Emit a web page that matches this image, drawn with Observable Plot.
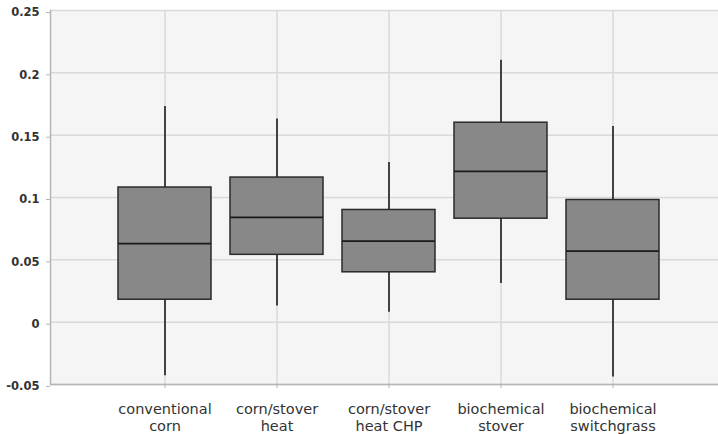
<!DOCTYPE html>
<html>
<head>
<meta charset="utf-8">
<script src="https://cdn.jsdelivr.net/npm/d3@7"></script>
<script src="https://cdn.jsdelivr.net/npm/@observablehq/plot@0.6"></script>
<style>
  html, body { margin: 0; padding: 0; background: #ffffff; overflow: hidden; }
  #chart svg { display: block; overflow: hidden; }
</style>
</head>
<body>
<div id="chart"></div>
<script>
const categories = ["conventional\ncorn", "corn/stover\nheat", "corn/stover\nheat CHP", "biochemical\nstover", "biochemical\nswitchgrass"];
const whiskerLow = [-0.043, 0.013, 0.008, 0.031, -0.044];
const q1 = [0.018, 0.054, 0.040, 0.083, 0.018];
const median = [0.063, 0.084, 0.065, 0.121, 0.057];
const q3 = [0.108, 0.116, 0.090, 0.160, 0.098];
const whiskerHigh = [0.173, 0.163, 0.128, 0.210, 0.157];
const yTicks = [-0.05, 0, 0.05, 0.1, 0.15, 0.2, 0.25];

const data = categories.map((c, i) => ({
  cat: c, lo: whiskerLow[i], q1: q1[i], med: median[i], q3: q3[i], hi: whiskerHigh[i]
}));

const chart = Plot.plot({
  width: 718,
  height: 434,
  marginTop: 10,
  marginBottom: 50,
  marginLeft: 50,
  marginRight: -9,
  style: { fontFamily: "'DejaVu Sans', sans-serif", fontSize: "14px", color: "#2a2a2a", background: "#ffffff" },
  x: { type: "band", domain: categories, paddingInner: 0.166, paddingOuter: 0.586, label: null },
  y: { domain: [-0.05, 0.25], label: null },
  marks: [
    Plot.frame({ fill: "#f5f5f5", stroke: null }),
    Plot.gridY(yTicks, { stroke: "#d9d9d9", strokeOpacity: 1, strokeWidth: 1.5 }),
    Plot.gridX(categories, { stroke: "#d9d9d9", strokeOpacity: 1, strokeWidth: 1.5 }),
    Plot.ruleY([-0.05], { stroke: "#b5b5b5", strokeWidth: 1.5 }),
    Plot.frame({ anchor: "left", stroke: "#b5b5b5", strokeWidth: 1.5 }),
    Plot.axisY(yTicks, {
      tickSize: 4, tickPadding: 7, stroke: "#b5b5b5",
      tickFormat: d => String(+d.toFixed(2)),
      fill: "#333333", fontSize: 11.5, fontWeight: "bold", dy: 2
    }),
    Plot.axisX({
      tickSize: 4, tickPadding: 13, stroke: "#b5b5b5",
      fill: "#333333", fontSize: 14.5, lineHeight: 1.2
    }),
    Plot.ruleX(data, { x: "cat", y1: "lo", y2: "q1", stroke: "#1a1a1a", strokeWidth: 1.6 }),
    Plot.ruleX(data, { x: "cat", y1: "q3", y2: "hi", stroke: "#1a1a1a", strokeWidth: 1.6 }),
    Plot.rectY(data, { x: "cat", y1: "q1", y2: "q3", fill: "#888888", stroke: "#2a2a2a", strokeWidth: 1.5, inset: 0 }),
    Plot.tickY(data, { x: "cat", y: "med", stroke: "#1a1a1a", strokeWidth: 1.8 })
  ]
});
document.getElementById("chart").appendChild(chart);
</script>
</body>
</html>
